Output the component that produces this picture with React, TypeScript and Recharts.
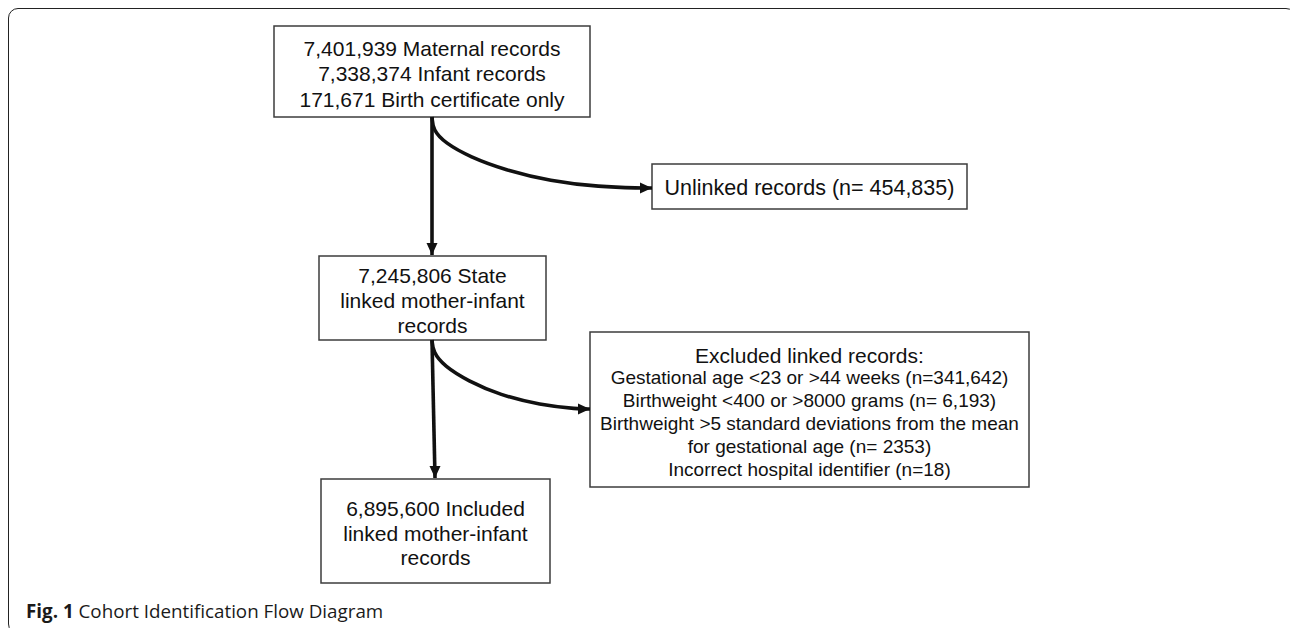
import { ComposedChart, XAxis, YAxis, Line, ReferenceArea } from "recharts";

// box texts
const sourceLines = [
  "7,401,939 Maternal records",
  "7,338,374 Infant records",
  "171,671 Birth certificate only",
];
const unlinkedLines = ["Unlinked records (n= 454,835)"];
const stateLines = ["7,245,806 State", "linked mother-infant", "records"];
const excludedTitle = "Excluded linked records:";
const excludedLines = [
  "Gestational age <23 or >44 weeks (n=341,642)",
  "Birthweight <400 or >8000 grams (n= 6,193)",
  "Birthweight >5 standard deviations from the mean",
  "for gestational age (n= 2353)",
  "Incorrect hospital identifier (n=18)",
];
const includedLines = ["6,895,600 Included", "linked mother-infant", "records"];
const captionBold = "Fig. 1";
const captionText = "Cohort Identification Flow Diagram";

// arrow paths (diagram units = px)
const sourceToState = [
  { x: 432, y: 117 },
  { x: 432, y: 255 },
];
const sourceToUnlinked = [
  { x: 432, y: 117 },
  { x: 433, y: 130 },
  { x: 445, y: 143 },
  { x: 470, y: 157 },
  { x: 505, y: 170 },
  { x: 550, y: 181 },
  { x: 600, y: 187 },
  { x: 640, y: 188 },
  { x: 652, y: 188 },
];
const stateToIncluded = [
  { x: 432, y: 340 },
  { x: 435, y: 478 },
];
const stateToExcluded = [
  { x: 432, y: 340 },
  { x: 433, y: 352 },
  { x: 444, y: 366 },
  { x: 468, y: 381 },
  { x: 500, y: 395 },
  { x: 540, y: 405 },
  { x: 578, y: 409 },
  { x: 590, y: 409 },
];

const W = 1290;
const H = 628;
const FONT = "'Liberation Sans', Arial, Helvetica, sans-serif";

type Row = { text: string; size: number };
type Box = { id: string; x1: number; x2: number; y1: number; y2: number; rows: Row[]; lead: number; shift: number };

const rowsOf = (lines: string[], size: number): Row[] => lines.map((text) => ({ text, size }));

const boxes: Box[] = [
  { id: "source", x1: 274, x2: 590, y1: 26, y2: 117, rows: rowsOf(sourceLines, 21), lead: 25.5, shift: 2 },
  { id: "unlinked", x1: 652, x2: 967, y1: 164, y2: 209, rows: rowsOf(unlinkedLines, 21.5), lead: 25, shift: 1.5 },
  { id: "state", x1: 319, x2: 546, y1: 256, y2: 340, rows: rowsOf(stateLines, 21), lead: 25, shift: 2 },
  {
    id: "excluded",
    x1: 590,
    x2: 1029,
    y1: 332,
    y2: 487,
    rows: [{ text: excludedTitle, size: 21 }, ...rowsOf(excludedLines, 19)],
    lead: 22.8,
    shift: 2.5,
  },
  { id: "included", x1: 321, x2: 550, y1: 479, y2: 583, rows: rowsOf(includedLines, 21), lead: 24.5, shift: 2 },
];

const arrows = [
  { id: "a1", data: sourceToState, head: "down" },
  { id: "a2", data: sourceToUnlinked, head: "right" },
  { id: "a3", data: stateToIncluded, head: "down" },
  { id: "a4", data: stateToExcluded, head: "right" },
];

const BoxShape = (props: any) => {
  const { x, y, width, height, box } = props;
  const cx = x + width / 2;
  const mid = y + height / 2 + box.shift;
  const n = box.rows.length;
  return (
    <g>
      <rect x={x} y={y} width={width} height={height} fill="#fff" stroke="#3c3c3c" strokeWidth={1.5} />
      {box.rows.map((r: Row, i: number) => (
        <text
          key={i}
          x={cx}
          y={mid + (i - (n - 1) / 2) * box.lead}
          textAnchor="middle"
          dominantBaseline="central"
          style={{ fontFamily: FONT }}
          fontSize={r.size}
          fill="#111"
        >
          {r.text}
        </text>
      ))}
    </g>
  );
};

const ArrowHead = ({ cx, cy, dir }: { cx: number; cy: number; dir: string }) => {
  const len = 12;
  const half = 5.5;
  const pts =
    dir === "down"
      ? `${cx},${cy} ${cx - half},${cy - len} ${cx + half},${cy - len}`
      : `${cx},${cy} ${cx - len},${cy - half} ${cx - len},${cy + half}`;
  return <polygon points={pts} fill="#111" />;
};

export default function App() {
  return (
    <div
      style={{
        position: "fixed",
        left: 0,
        top: 0,
        width: W,
        height: H,
        overflow: "hidden",
        background: "#fff",
      }}
    >
      <div
        style={{
          position: "absolute",
          left: 8,
          top: 8,
          width: 1288,
          height: 626,
          boxSizing: "border-box",
          border: "1.8px solid #222",
          borderRadius: 10,
        }}
      />
      <div style={{ position: "absolute", left: 0, top: 0 }}>
        <ComposedChart width={W} height={H} margin={{ top: 0, right: 0, bottom: 0, left: 0 }}>
          <XAxis type="number" dataKey="x" domain={[0, W]} hide allowDataOverflow />
          <YAxis type="number" dataKey="y" domain={[0, H]} reversed hide allowDataOverflow />
          {boxes.map((b) => (
            <ReferenceArea
              key={b.id}
              x1={b.x1}
              x2={b.x2}
              y1={b.y1}
              y2={b.y2}
              ifOverflow="visible"
              shape={(p: any) => <BoxShape {...p} box={b} />}
            />
          ))}
          {arrows.map((a) => (
            <Line
              key={a.id}
              data={a.data}
              dataKey="y"
              type="basis"
              stroke="#111"
              strokeWidth={3.6}
              isAnimationActive={false}
              legendType="none"
              activeDot={false}
              dot={(p: any) =>
                p.index === a.data.length - 1 ? (
                  <ArrowHead key={`${a.id}-h`} cx={p.cx} cy={p.cy} dir={a.head} />
                ) : (
                  <g key={`${a.id}-${p.index}`} />
                )
              }
            />
          ))}
        </ComposedChart>
      </div>
      <div
        style={{
          position: "absolute",
          left: 26,
          top: 599,
          fontFamily: "'Open Sans', 'Noto Sans', sans-serif",
          fontSize: 18.8,
          color: "#1a1a1a",
          whiteSpace: "nowrap",
          lineHeight: "24px",
        }}
      >
        <b>{captionBold}</b> {captionText}
      </div>
    </div>
  );
}
